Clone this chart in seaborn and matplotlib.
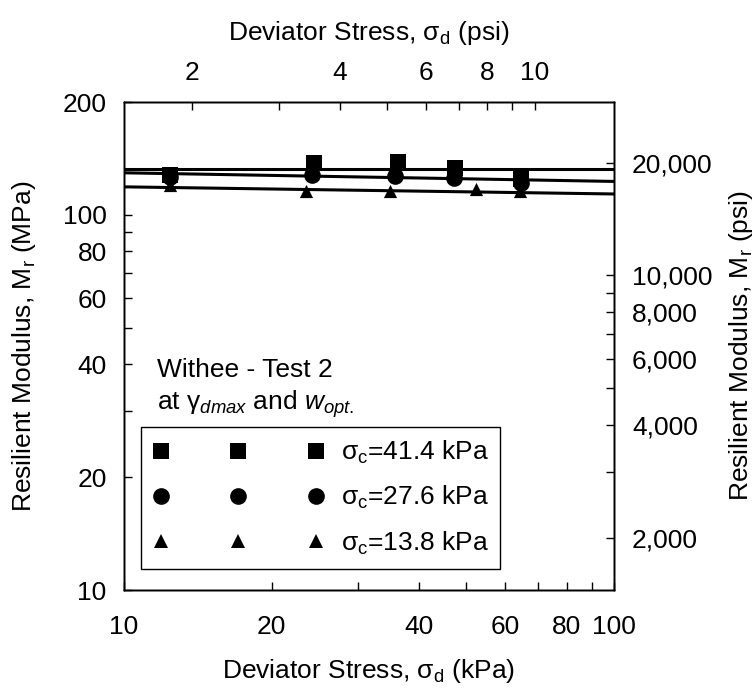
import numpy as np
import pandas as pd
import matplotlib
matplotlib.use("Agg")
import matplotlib.pyplot as plt
from matplotlib.lines import Line2D
from matplotlib.ticker import FixedLocator, FixedFormatter, NullLocator
import seaborn as sns

# Measured resilient modulus (MPa) against deviator stress (kPa), per confining pressure
stress_41 = [12.4, 24.4, 36.3, 47.4, 64.7]
mr_41 = [127.8, 137.5, 138.0, 133.0, 124.6]
stress_28 = [12.4, 24.2, 35.8, 47.2, 64.5]
mr_28 = [126.5, 128.0, 127.2, 125.8, 121.6]
stress_14 = [12.4, 23.5, 34.9, 52.2, 64.4]
mr_14 = [120.4, 115.7, 115.7, 117.3, 115.5]

# Power-law fits: M_r = k * (sigma_d / 10 kPa) ** n
fit_k = [132.7, 129.5, 118.8]
fit_n = [0.0, -0.023, -0.019]

series_labels = [r"σ$_{\mathrm{c}}$=41.4 kPa",
                 r"σ$_{\mathrm{c}}$=27.6 kPa",
                 r"σ$_{\mathrm{c}}$=13.8 kPa"]
series_markers = ["s", "o", "^"]
series_sizes = [12, 12, 9.5]

# Axis ticks
x_ticks = [10, 20, 30, 40, 50, 60, 70, 80, 90, 100]
x_labels = ["10", "20", "", "40", "", "60", "", "80", "", "100"]
y_ticks = [10, 20, 30, 40, 50, 60, 70, 80, 90, 100, 200]
y_labels = ["10", "20", "", "40", "", "60", "", "80", "", "100", "200"]
psi_x_ticks = [2, 3, 4, 5, 6, 7, 8, 9, 10]
psi_x_labels = ["2", "", "4", "", "6", "", "8", "", "10"]
psi_y_ticks = [2000, 3000, 4000, 5000, 6000, 7000, 8000, 9000, 10000, 20000]
psi_y_labels = ["2,000", "", "4,000", "", "6,000", "", "8,000", "", "10,000", "20,000"]

KPA_PER_PSI = 6.894757
PSI_PER_MPA = 145.0377

sns.set_style("white")
plt.rcParams["font.family"] = ["Liberation Sans", "DejaVu Sans"]
plt.rcParams["mathtext.fontset"] = "custom"
plt.rcParams["mathtext.rm"] = "Liberation Sans"
plt.rcParams["mathtext.it"] = "Liberation Sans:italic"
plt.rcParams["mathtext.bf"] = "Liberation Sans:bold"
for key in ("text.color", "axes.labelcolor", "xtick.color", "ytick.color",
            "axes.edgecolor"):
    plt.rcParams[key] = "black"

FS = 19

fig = plt.figure(figsize=(7.56, 6.9), dpi=100)
ax = fig.add_axes([124 / 756, 1 - 590 / 690, 490 / 756, 488 / 690])

stresses = [stress_41, stress_28, stress_14]
moduli = [mr_41, mr_28, mr_14]

# Fitted lines across the full stress range
grid = np.geomspace(10, 100, 60)
for k, n in zip(fit_k, fit_n):
    sns.lineplot(x=grid, y=k * (grid / 10.0) ** n, color="black", lw=2.2,
                 ax=ax, zorder=2, legend=False)

# Measured points
for xs, ys, mk, ms in zip(stresses, moduli, series_markers, series_sizes):
    df = pd.DataFrame({"stress": xs, "mr": ys})
    sns.scatterplot(data=df, x="stress", y="mr", marker=mk, s=ms ** 2,
                    color="black", edgecolor="black", linewidth=0,
                    ax=ax, zorder=3, legend=False)

ax.set_xscale("log")
ax.set_yscale("log")
ax.set_xlim(10, 100)
ax.set_ylim(10, 200)
ax.xaxis.set_major_locator(FixedLocator(x_ticks))
ax.xaxis.set_major_formatter(FixedFormatter(x_labels))
ax.xaxis.set_minor_locator(NullLocator())
ax.yaxis.set_major_locator(FixedLocator(y_ticks))
ax.yaxis.set_major_formatter(FixedFormatter(y_labels))
ax.yaxis.set_minor_locator(NullLocator())
ax.tick_params(axis="x", which="major", direction="in", length=5.8, width=1,
               labelsize=FS, pad=18, top=False, bottom=True)
ax.tick_params(axis="y", which="major", direction="in", length=5.8, width=1,
               labelsize=FS, pad=12.5, left=True, right=False)
ax.set_xlabel(r"Deviator Stress, σ$_{\mathrm{d}}$ (kPa)", fontsize=FS)
ax.set_ylabel(r"Resilient Modulus, M$_{\mathrm{r}}$ (MPa)", fontsize=FS)
ax.xaxis.set_label_coords(0.5, -0.137)
ax.yaxis.set_label_coords(-0.175, 0.5)

# Top axis in psi
ax_top = ax.twiny()
ax_top.set_xscale("log")
ax_top.set_xlim(10 / KPA_PER_PSI, 100 / KPA_PER_PSI)
ax_top.xaxis.set_major_locator(FixedLocator(psi_x_ticks))
ax_top.xaxis.set_major_formatter(FixedFormatter(psi_x_labels))
ax_top.xaxis.set_minor_locator(NullLocator())
ax_top.tick_params(axis="x", which="major", direction="in", length=5.8, width=1,
                   labelsize=FS, pad=12)
ax_top.set_xlabel(r"Deviator Stress, σ$_{\mathrm{d}}$ (psi)", fontsize=FS)
ax_top.xaxis.set_label_coords(0.5, 1.128)

# Right axis in psi
ax_right = ax.twinx()
ax_right.set_yscale("log")
ax_right.set_ylim(10 * PSI_PER_MPA, 200 * PSI_PER_MPA)
ax_right.yaxis.set_major_locator(FixedLocator(psi_y_ticks))
ax_right.yaxis.set_major_formatter(FixedFormatter(psi_y_labels))
ax_right.yaxis.set_minor_locator(NullLocator())
ax_right.tick_params(axis="y", which="major", direction="in", length=5.8, width=1,
                     labelsize=FS, pad=13)
ax_right.set_ylabel(r"Resilient Modulus, M$_{\mathrm{r}}$ (psi)", fontsize=FS)
ax_right.yaxis.set_label_coords(1.2306, 0.5)

for a in (ax, ax_top, ax_right):
    for sp in a.spines.values():
        sp.set_color("black")
        sp.set_linewidth(1.0)

# Annotation and legend
ax.text(0.0673, 0.4365, "Withee - Test 2", transform=ax.transAxes,
        fontsize=FS, va="baseline", ha="left")
ax.text(0.0673, 0.3689,
        r"at γ$_{\mathit{dmax}}$ and $\mathit{w}_{\mathit{opt.}}$",
        transform=ax.transAxes, fontsize=FS, va="baseline", ha="left")

handles = [Line2D([], [], ls="none", marker=mk, markersize=ms, color="black",
                  markeredgewidth=0)
           for mk, ms in zip(series_markers, series_sizes)]
leg = ax_right.legend(handles, series_labels, loc="upper left",
                      bbox_to_anchor=(0.0347, 0.334), bbox_transform=ax.transAxes,
                      numpoints=3, handlelength=6.47, handletextpad=0.64,
                      borderpad=0.45, labelspacing=0.69, borderaxespad=0,
                      fontsize=FS, frameon=True, fancybox=False, framealpha=1,
                      edgecolor="black")
leg.get_frame().set_linewidth(1.0)

fig.savefig("out.png", dpi=100)
